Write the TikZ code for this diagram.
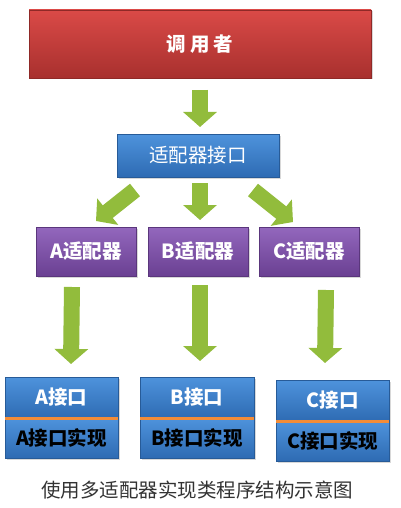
\documentclass[tikz,border=0pt]{standalone}
\usepackage{fontspec}
\setmainfont{Noto Sans CJK SC}
\usetikzlibrary{arrows.meta,positioning,shadows}

\definecolor{redtop}{HTML}{DA4A47}
\definecolor{redbot}{HTML}{A8302E}
\definecolor{bluetop}{HTML}{4E93DC}
\definecolor{bluebot}{HTML}{2E6BB3}
\definecolor{purpletop}{HTML}{9367BD}
\definecolor{purplebot}{HTML}{6A4092}
\definecolor{arrowgreen}{HTML}{92BC3C}
\definecolor{sepline}{HTML}{F28C38}
\definecolor{captext}{HTML}{333333}

\begin{document}
\begin{tikzpicture}[x=1pt,y=-1pt,node distance=0pt,
    base box/.style={rectangle,inner sep=0pt,outer sep=0pt,line width=0.4pt,text=white,
      font=\fontsize{19.5}{22}\selectfont\bfseries,
      drop shadow={opacity=0.3,shadow xshift=1.5pt,shadow yshift=-1.5pt}},
    red box/.style={base box,top color=redtop,bottom color=redbot,draw=redbot!85!black,
      minimum width=342pt,minimum height=68pt},
    blue box/.style={base box,top color=bluetop,bottom color=bluebot,draw=bluebot!85!black},
    purple box/.style={base box,top color=purpletop,bottom color=purplebot,draw=purplebot!85!black,
      minimum width=100pt,minimum height=49pt},
    impl box/.style={blue box,text=black,minimum width=113pt,minimum height=40pt},
    fat arrow/.style={draw=arrowgreen,line width=16pt,-{Triangle[length=15pt,width=33pt]}},
    sep/.style={draw=sepline,line width=3pt}]

  \useasboundingbox[fill=white] (0,0) rectangle (400,508);

  \node[red box] (caller) at (200,44) {调\hspace{4pt}用\hspace{4pt}者};
  \node[blue box,minimum width=162pt,minimum height=43pt,font=\fontsize{19.5}{22}\selectfont] (iface) at (198,155.5) {适配器接口};

  \node[purple box] (B) at (198,251.5) {B适配器};
  \node[purple box] (A) [left=12pt of B] {A适配器};
  \node[purple box] (C) [right=11pt of B] {C适配器};

  \node[blue box,minimum width=113pt,minimum height=41pt] (Aif) at (61.5,397.5) {A接口};
  \node[impl box] (Aimpl) [below=of Aif] {A接口实现};
  \node[blue box,minimum width=114pt,minimum height=41pt] (Bif) at (197,397.5) {B接口};
  \node[impl box,minimum width=114pt] (Bimpl) [below=of Bif] {B接口实现};
  \node[blue box,minimum width=113pt,minimum height=41pt] (Cif) at (332.5,400.5) {C接口};
  \node[impl box] (Cimpl) [below=of Cif] {C接口实现};

  \draw[sep] (Aif.south west) -- (Aif.south east);
  \draw[sep] (Bif.south west) -- (Bif.south east);
  \draw[sep] (Cif.south west) -- (Cif.south east);

  \draw[fat arrow] ([yshift=-12pt]caller.south) -- ([yshift=7pt]iface.north -| caller.south);
  \draw[fat arrow] ([shift={(18,13)}]iface.south west) -- ([shift={(10,-6)}]A.north);
  \draw[fat arrow] ([shift={(2,6)}]iface.south) -- ([shift={(2,-7)}]B.north);
  \draw[fat arrow] ([shift={(-26,13)}]iface.south east) -- ([shift={(-16,-5)}]C.north);

  \draw[fat arrow] ([shift={(-14,11)}]A.south) -- ([shift={(9.5,-13)}]Aif.north);
  \draw[fat arrow] ([shift={(2,9)}]B.south) -- ([shift={(3,-16)}]Bif.north);
  \draw[fat arrow] ([shift={(17,14)}]C.south) -- ([shift={(-7.5,-17)}]Cif.north);

  \node[text=captext,font=\fontsize{19.5}{22}\selectfont] (caption) at (197,490) {使用多适配器实现类程序结构示意图};

\end{tikzpicture}
\end{document}
